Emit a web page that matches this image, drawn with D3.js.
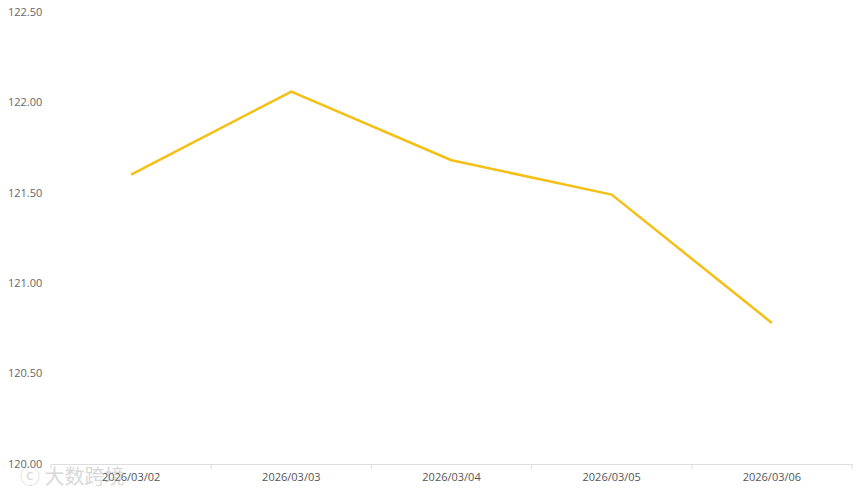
<!DOCTYPE html>
<html><head><meta charset="utf-8">
<script src="https://cdn.jsdelivr.net/npm/d3@7"></script>
<style>body{margin:0;background:#fff;}svg{display:block;font-family:"Open Sans","Noto Sans",sans-serif;}</style>
</head><body>
<svg id="c" width="864" height="492"></svg>
<script>
const categories = ["2026/03/02","2026/03/03","2026/03/04","2026/03/05","2026/03/06"];
const values = [121.60, 122.06, 121.68, 121.49, 120.78];
const yTicks = [120.00, 120.50, 121.00, 121.50, 122.00, 122.50];

const svg = d3.select("#c");
const m = {left:51, right:852, top:12, bottom:464};
const x = d3.scaleBand().domain(categories).range([m.left, m.right]);
const y = d3.scaleLinear().domain([120, 122.5]).range([m.bottom, m.top]);

// y labels
svg.append("g").selectAll("text").data(yTicks).join("text")
  .attr("x", 8).attr("y", d => y(d)).attr("dy", "0.35em")
  .attr("font-size", 11).attr("fill", "#666")
  .text(d => d.toFixed(2));

// x axis
const xa = svg.append("g").attr("transform", `translate(0,${m.bottom})`)
  .call(d3.axisBottom(x).tickSize(0).tickPadding(9));
xa.select(".domain").attr("stroke", "#ddd");
xa.selectAll("text").attr("font-size", 11).attr("fill", "#555").attr("font-family", '"Open Sans","Noto Sans",sans-serif');
const bounds = categories.map(c => x(c)).concat([m.right]);
xa.selectAll(".sep").data(bounds).join("line").attr("class","sep")
  .attr("x1", d => d).attr("x2", d => d).attr("y1", 0).attr("y2", 5)
  .attr("stroke", "#ddd");

// line
const line = d3.line().x((d,i) => x(categories[i]) + x.bandwidth()/2).y(d => y(d));
svg.append("path").datum(values).attr("d", line)
  .attr("fill", "none").attr("stroke", "#f5bf14").attr("stroke-width", 2.5)
  .attr("stroke-linejoin", "round");

// watermark
svg.append("text").attr("x", 20).attr("y", 484).attr("font-size", 20)
  .attr("fill", "#aaa").attr("opacity", 0.45).attr("font-family", '"Noto Sans CJK SC",sans-serif')
  .text("ⓒ 大数跨境");
</script>
</body></html>
